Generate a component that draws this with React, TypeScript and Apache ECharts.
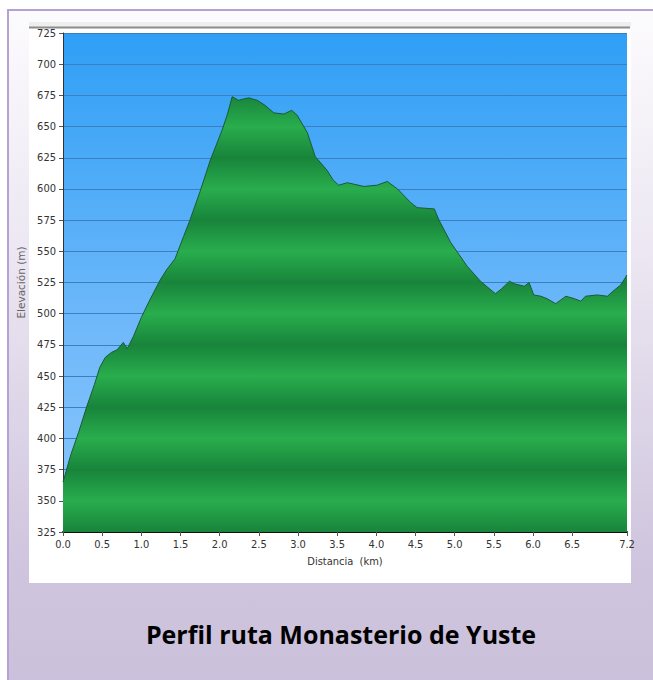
import React, { useEffect, useRef } from "react";
import * as echarts from "echarts";

const distanceKm = [0, 0.1, 0.2, 0.3, 0.4, 0.47, 0.54, 0.62, 0.69, 0.77, 0.82, 0.9, 1.0, 1.1, 1.24, 1.32, 1.43, 1.54, 1.62, 1.75, 1.88, 2.03, 2.1, 2.16, 2.24, 2.3, 2.37, 2.48, 2.58, 2.69, 2.82, 2.92, 2.99, 3.12, 3.22, 3.37, 3.45, 3.52, 3.63, 3.84, 4.01, 4.14, 4.27, 4.44, 4.52, 4.74, 4.8, 4.95, 5.16, 5.33, 5.52, 5.6, 5.7, 5.76, 5.89, 5.95, 6.01, 6.1, 6.18, 6.29, 6.42, 6.53, 6.61, 6.67, 6.82, 6.95, 7.04, 7.12, 7.2];
const elevationM = [365, 387, 405, 425, 443, 457, 465, 469, 471, 477, 472, 482, 497, 510, 527, 535, 544, 562, 575, 598, 623, 647, 660, 674, 671, 672, 673, 671, 667, 661, 660, 663, 659, 645, 626, 615, 607, 603, 605, 602, 603, 606, 600, 589, 585, 584, 575, 557, 538, 526, 516, 520, 526, 524, 522, 525, 515, 514, 512, 508, 514, 512, 510, 514, 515, 514, 519, 523, 531];
const xTickValues = [0, 0.5, 1, 1.5, 2, 2.5, 3, 3.5, 4, 4.5, 5, 5.5, 6, 6.5, 7.2];
const yMin = 325;
const yMax = 725;
const yStep = 25;
const titleText = "Perfil ruta Monasterio de Yuste";
const xName = "Distancia  (km)";
const yName = "Elevación (m)";

const GRID_TOP = 33;
const GRID_BOTTOM_PX = 532;
const LABEL_FONT = "'Liberation Sans Narrow', 'DejaVu Sans Condensed', 'Roboto Condensed', 'Liberation Sans', sans-serif";

function greenStops() {
  const stops: { offset: number; color: string }[] = [];
  const light = "#29ad4d";
  const dark = "#18843b";
  for (let v = yMax; v >= yMin; v -= yStep) {
    const offset = (yMax - v) / (yMax - yMin);
    const isLight = v % 50 === 0;
    stops.push({ offset, color: isLight ? light : dark });
  }
  return stops;
}

export default function App() {
  const ref = useRef<HTMLDivElement>(null);
  useEffect(() => {
    if (!ref.current) return;
    const chart = echarts.init(ref.current, undefined, { renderer: "svg" });
    const data = distanceKm.map((d, i) => [d, elevationM[i]]);
    chart.setOption({
      animation: false,
      graphic: [
        {
          type: "rect",
          z: -10,
          silent: true,
          shape: { x: 8, y: 10, width: 660, height: 690 },
          style: {
            fill: new echarts.graphic.LinearGradient(0, 0, 0, 1, [
              { offset: 0, color: "#fcfbfd" },
              { offset: 0.35, color: "#ece7f2" },
              { offset: 0.8, color: "#cfc5de" },
              { offset: 1, color: "#cbc0db" },
            ]),
            stroke: "#b6a2d2",
            lineWidth: 2,
          },
        },
        {
          type: "rect",
          z: -9,
          silent: true,
          shape: { x: 29, y: 22, width: 602, height: 561 },
          style: { fill: "#ffffff" },
        },
        {
          type: "rect",
          z: -9,
          silent: true,
          shape: { x: 29, y: 22, width: 602, height: 5 },
          style: { fill: "#eeeeee" },
        },
        {
          type: "line",
          z: -8,
          silent: true,
          shape: { x1: 29, y1: 27.5, x2: 630, y2: 27.5 },
          style: { stroke: "#8c8c8c", lineWidth: 2 },
        },
        {
          type: "text",
          z: 10,
          x: 341,
          y: 634,
          style: {
            text: titleText,
            align: "center",
            verticalAlign: "middle",
            fontFamily: "'Open Sans', 'Noto Sans', sans-serif",
            fontWeight: "bold",
            fontSize: 25,
            fill: "#000000",
          },
        },
      ],
      grid: {
        left: 63,
        top: GRID_TOP,
        right: 26,
        bottom: 680 - GRID_BOTTOM_PX,
        show: true,
        borderWidth: 0,
        backgroundColor: new echarts.graphic.LinearGradient(0, 0, 0, 1, [
          { offset: 0, color: "#2f9ff5" },
          { offset: 0.6, color: "#70b9fa" },
          { offset: 1, color: "#8ac6fc" },
        ]),
      },
      xAxis: {
        type: "value",
        min: 0,
        max: 7.2,
        interval: 0.5,
        name: xName,
        nameLocation: "middle",
        nameGap: 24,
        nameTextStyle: { fontFamily: LABEL_FONT, fontSize: 11, color: "#333" },
        axisLine: { show: true, lineStyle: { color: "#111", width: 2 } },
        axisTick: { show: true, length: 4, lineStyle: { color: "#555" }, customValues: xTickValues },
        axisLabel: {
          fontFamily: LABEL_FONT,
          fontSize: 11,
          color: "#333",
          margin: 7,
          customValues: xTickValues,
          formatter: (v: number) => v.toFixed(1),
        },
        splitLine: { show: false },
      },
      yAxis: {
        type: "value",
        min: yMin,
        max: yMax,
        interval: yStep,
        name: yName,
        nameLocation: "middle",
        nameGap: 30,
        nameRotate: 90,
        nameTextStyle: { fontFamily: "'DejaVu Sans', sans-serif", fontSize: 10.5, color: "#666" },
        axisLine: { show: true, lineStyle: { color: "#333", width: 1 } },
        axisTick: { show: true, length: 4, lineStyle: { color: "#555" } },
        axisLabel: { fontFamily: LABEL_FONT, fontSize: 11, color: "#333", margin: 7 },
        splitLine: { show: true, lineStyle: { color: "#3b7fc2", width: 1 } },
      },
      series: [
        {
          type: "line",
          data,
          symbol: "none",
          smooth: false,
          lineStyle: { color: "#1b5a36", width: 1 },
          areaStyle: {
            opacity: 1,
            color: {
              type: "linear",
              global: true,
              x: 0,
              y: GRID_TOP,
              x2: 0,
              y2: GRID_BOTTOM_PX,
              colorStops: greenStops(),
            },
          },
        },
      ],
    });
    return () => chart.dispose();
  }, []);
  return (
    <div
      ref={ref}
      style={{ position: "fixed", left: 0, top: 0, width: 653, height: 680, background: "#ffffff" }}
    />
  );
}
